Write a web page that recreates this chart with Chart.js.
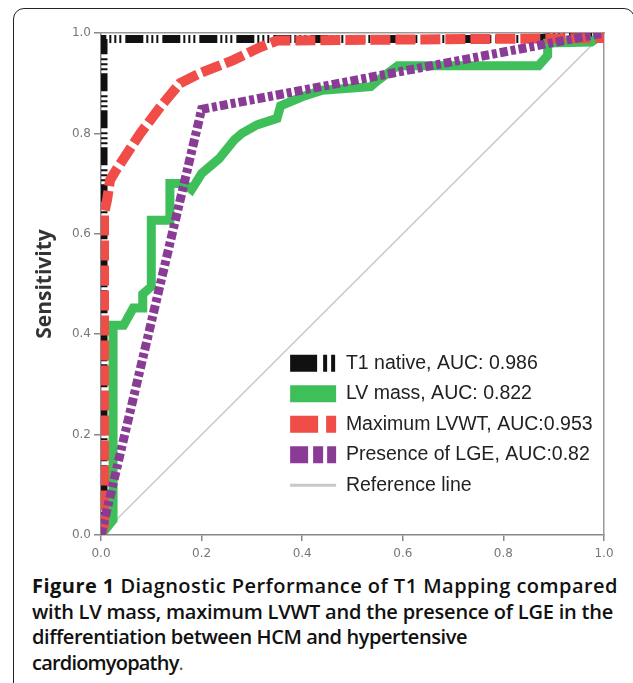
<!DOCTYPE html>
<html lang="en">

<head>
    <meta charset="UTF-8">
    <title>ROC curves</title>
    <script src="https://cdn.jsdelivr.net/npm/chart.js"></script>
    <style>
        body {
            margin: 0;
            background: #fff;
            width: 633px;
            height: 683px;
            overflow: hidden;
            position: relative;
        }

        #frame {
            position: absolute;
            left: 13px;
            top: 8px;
            width: 622px;
            height: 700px;
            box-sizing: border-box;
            border: 1.5px solid #222;
            border-radius: 11px;
        }

        #chart-container {
            position: absolute;
            left: 0;
            top: 0;
            width: 633px;
            height: 565px;
        }

        #caption {
            position: absolute;
            left: 32px;
            top: 573px;
            font-family: "Open Sans", sans-serif;
            font-size: 20px;
            font-weight: 650;
            line-height: 25.7px;
            color: #111;
            white-space: nowrap;
        }

        #caption .ln {
            display: inline-block;
        }
    </style>
</head>

<body>
    <div id="frame"></div>
    <div id="chart-container">
        <canvas id="chart"></canvas>
    </div>
    <div id="caption"><span class="ln"><b style="font-weight:750">Figure 1</b> Diagnostic Performance of T1 Mapping compared</span><br><span class="ln">with LV mass, maximum LVWT and the presence of LGE in the</span><br><span class="ln">differentiation between HCM and hypertensive</span><br><span class="ln">cardiomyopathy<span style="font-weight:400;color:#555">.</span></span></div>

    <script>
        // 1 - specificity / sensitivity
        const t1X = [0, 0.005, 0.005, 0.85, 1];
        const t1Y = [0, 0.03, 0.988, 0.988, 1];

        const lvMassX = [0, 0.024, 0.024, 0.045, 0.064, 0.083, 0.083, 0.1, 0.1, 0.137, 0.137, 0.165, 0.18, 0.2, 0.235, 0.265, 0.28, 0.31, 0.35, 0.357, 0.4, 0.44, 0.536, 0.55, 0.59, 0.87, 0.888, 0.888, 0.975, 1];
        const lvMassY = [0, 0.03, 0.418, 0.418, 0.452, 0.452, 0.48, 0.495, 0.627, 0.627, 0.70, 0.70, 0.688, 0.72, 0.75, 0.787, 0.80, 0.817, 0.83, 0.855, 0.873, 0.886, 0.893, 0.905, 0.935, 0.935, 0.955, 0.98, 0.982, 1];

        const lvwtX = [0, 0.006, 0.006, 0.012, 0.018, 0.03, 0.078, 0.118, 0.157, 0.197, 0.263, 0.317, 0.35, 1];
        const lvwtY = [0, 0.02, 0.64, 0.667, 0.707, 0.727, 0.80, 0.853, 0.90, 0.92, 0.946, 0.972, 0.985, 0.99];

        const lgeX = [0, 0.2, 1];
        const lgeY = [0, 0.848, 1];

        const refX = [0, 1];
        const refY = [0, 1];

        const labels = [
            "T1 native, AUC: 0.986",
            "LV mass, AUC: 0.822",
            "Maximum LVWT, AUC:0.953",
            "Presence of LGE, AUC:0.82",
            "Reference line"
        ];
        const axisTicks = [0, 0.2, 0.4, 0.6, 0.8, 1.0];

        // caption line widths in the figure (px)
        const captionWidths = [586, 581, 435, 151];
        document.querySelectorAll("#caption .ln").forEach((el, i) => {
            const w = el.getBoundingClientRect().width;
            const n = el.textContent.length;
            el.style.letterSpacing = ((captionWidths[i] - w) / n) + "px";
        });

        const toPoints = (xs, ys) => xs.map((x, i) => ({ x: x, y: ys[i] }));

        // put the legend in the lower right of the plot
        const legendPlace = {
            id: "legendPlace",
            afterLayout(chart) {
                const lg = chart.legend;
                const pad = lg.options.labels.padding;
                const h = lg.height;
                lg.left = chart.scales.x.getPixelForValue(0.376) - pad;
                lg.right = lg.left + lg.width;
                lg.bottom = chart.scales.y.getPixelForValue(0.058);
                lg.top = lg.bottom - h;
            }
        };

        const base = { pointRadius: 0, tension: 0, fill: false, borderJoinStyle: "miter", borderCapStyle: "butt" };

        const ctx = document.getElementById("chart").getContext("2d");
        new Chart(ctx, {
            type: "line",
            data: {
                datasets: [
                    Object.assign({}, base, {
                        label: labels[0], data: toPoints(t1X, t1Y),
                        borderColor: "#111", borderWidth: 8, borderDash: [18, 3, 2, 3, 2, 3, 2, 4],
                        legendDash: [27, 6, 4, 4, 4, 40], legendWidth: 17, order: 4
                    }),
                    Object.assign({}, base, {
                        label: labels[1], data: toPoints(lvMassX, lvMassY),
                        borderColor: "#3fbf5a", borderWidth: 9,
                        legendDash: [], legendWidth: 17, order: 3
                    }),
                    Object.assign({}, base, {
                        label: labels[2], data: toPoints(lvwtX, lvwtY),
                        borderColor: "#f04c48", borderWidth: 10, borderDash: [20, 5],
                        legendDash: [28, 8, 10, 40], legendWidth: 17, order: 2
                    }),
                    Object.assign({}, base, {
                        label: labels[3], data: toPoints(lgeX, lgeY),
                        borderColor: "#8a3b96", borderWidth: 9, borderDash: [8, 3, 5, 3],
                        legendDash: [18, 5, 10, 4, 9, 40], legendWidth: 17, order: 1
                    }),
                    Object.assign({}, base, {
                        label: labels[4], data: toPoints(refX, refY),
                        borderColor: "#c8c8c8", borderWidth: 1.5,
                        legendDash: [], legendWidth: 3, order: 5
                    })
                ]
            },
            options: {
                responsive: true,
                maintainAspectRatio: false,
                devicePixelRatio: 1,
                animation: false,
                layout: { padding: { top: 33, right: 29, left: 0, bottom: 0 } },
                plugins: {
                    tooltip: { enabled: false },
                    legend: {
                        position: "chartArea",
                        align: "end",
                        fullSize: false,
                        labels: {
                            usePointStyle: true,
                            pointStyleWidth: 46,
                            boxHeight: 17,
                            padding: 11,
                            color: "#222",
                            font: { family: "Liberation Sans", size: 19.5 },
                            generateLabels: chart => chart.data.datasets.map((ds, i) => ({
                                text: ds.label,
                                strokeStyle: ds.borderColor,
                                fillStyle: ds.borderColor,
                                lineWidth: ds.legendWidth,
                                lineDash: ds.legendDash,
                                lineCap: "butt",
                                pointStyle: "line",
                                fontColor: "#222",
                                hidden: false,
                                datasetIndex: i
                            }))
                        }
                    }
                },
                scales: {
                    x: {
                        type: "linear",
                        min: 0,
                        max: 1,
                        afterBuildTicks: s => { s.ticks = axisTicks.map(v => ({ value: v })); },
                        afterFit: s => { s.height = 30; },
                        ticks: {
                            padding: 6,
                            color: "#777",
                            font: { family: "DejaVu Sans", size: 12 },
                            callback: v => v.toFixed(1),
                            maxRotation: 0
                        },
                        grid: { drawOnChartArea: false, tickLength: 6, tickColor: "#888", lineWidth: 1.5 },
                        border: { color: "#888", width: 1.5 }
                    },
                    y: {
                        type: "linear",
                        min: 0,
                        max: 1,
                        afterBuildTicks: s => { s.ticks = axisTicks.map(v => ({ value: v })); },
                        afterFit: s => { s.width = 101; },
                        ticks: {
                            padding: 3,
                            color: "#777",
                            font: { family: "DejaVu Sans", size: 12 },
                            callback: v => v.toFixed(1)
                        },
                        grid: { drawOnChartArea: false, tickLength: 7, tickColor: "#888", lineWidth: 1.5 },
                        border: { color: "#888", width: 1.5 },
                        title: {
                            display: true,
                            text: "Sensitivity",
                            color: "#333",
                            font: { family: "Open Sans", size: 21, weight: "bold" },
                            padding: { top: 32, bottom: 0 }
                        }
                    },
                    x2: {
                        type: "linear",
                        position: "top",
                        min: 0,
                        max: 1,
                        afterFit: s => { s.height = 0; },
                        ticks: { display: false },
                        grid: { display: false, drawTicks: false },
                        border: { color: "#999", width: 1.5 }
                    },
                    y2: {
                        type: "linear",
                        position: "right",
                        min: 0,
                        max: 1,
                        afterFit: s => { s.width = 0; },
                        ticks: { display: false },
                        grid: { display: false, drawTicks: false },
                        border: { color: "#999", width: 1.5 }
                    }
                }
            },
            plugins: [legendPlace]
        });
    </script>
</body>

</html>
